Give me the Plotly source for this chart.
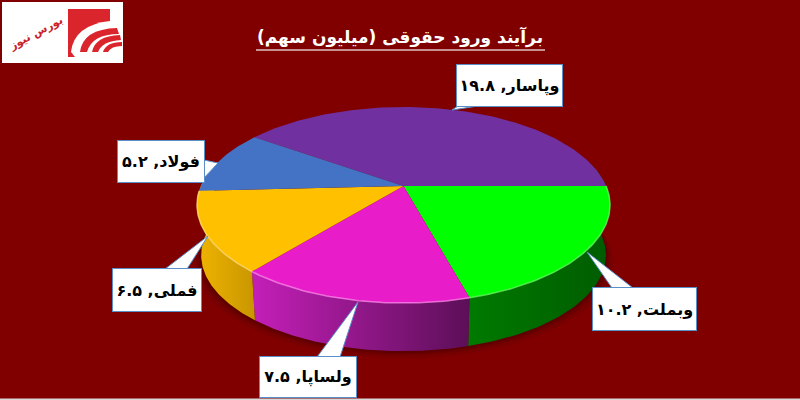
import numpy as np
import plotly.graph_objects as go

categories = ["ویپاسار", "وبملت", "ولساپا", "فملی", "فولاد"]
label_names = ["وپاسار", "وبملت", "ولساپا", "فملی", "فولاد"]
value_labels = ["۱۹.۸", "۱۰.۲", "۷.۵", "۶.۵", "۵.۲"]
values = [19.8, 10.2, 7.5, 6.5, 5.2]
top_colors = ["#7030a0", "#00ff00", "#e81cc8", "#ffc000", "#4472c4"]
wall_scales = [None,
               ["#007a00", "#005c00"],
               ["#c41fb8", "#5c0f58"],
               ["#f0b400", "#c89600"],
               None]
rim_colors = [None, "#66ff66", "#ff8cf0", "#ffe080", None]
title_text = "برآیند ورود حقوقی (میلیون سهم)"
logo_text = "بورس نیوز"

BG = "#800000"
CX, CY, A, B, K = 403.5, 186, 202.6, 94.3, 0.194
CY2, A2, B2 = 236.5, 198.5, 92.4


def top(t):
    d = 1 - K * np.sin(t)
    return CX + A * np.cos(t) / d, CY + B * np.sin(t) / d


def bot(t):
    d = 1 - K * np.sin(t)
    return CX + A2 * np.cos(t) / d, CY2 + B2 * np.sin(t) / d


fig = go.Figure()

# soft shadow under the pie
ring = np.linspace(0, 2 * np.pi, 240)
for grow, alpha in [(7, 0.10), (4, 0.14), (2, 0.18)]:
    sx, sy = bot(ring)
    fig.add_trace(go.Scatter(
        x=CX + (sx - CX) * (1 + grow / 200), y=sy + grow, mode="lines", fill="toself",
        line=dict(width=0), fillcolor=f"rgba(40,0,0,{alpha})", hoverinfo="skip", showlegend=False))

shares = np.array(values) / sum(values)
# purple slice ends on the right-hand horizontal; slices run clockwise on screen
edges = np.concatenate([[0.0], np.cumsum(shares[1:]), [1.0]]) * 2 * np.pi
starts = [edges[-2] - 2 * np.pi] + list(edges[:-2])
ends = [0.0] + list(edges[1:-1])

# side walls
for i in (1, 2, 3):
    lo = starts[i] - (0.25 if i == 1 else 0)
    hi = ends[i] + (0.25 if i == 3 else 0)
    t = np.linspace(lo, hi, 80)
    xt, yt = top(t)
    xb, yb = bot(t)
    fig.add_trace(go.Scatter(
        x=np.concatenate([xt, xb[::-1]]), y=np.concatenate([yt, yb[::-1]]),
        mode="lines", fill="toself", line=dict(width=0),
        fillgradient=dict(type="horizontal",
                          colorscale=[[0, wall_scales[i][0]], [1, wall_scales[i][1]]]),
        hoverinfo="skip", showlegend=False))

# top faces
for i, (name, val) in enumerate(zip(categories, values)):
    t = np.linspace(starts[i], ends[i], 120)
    x, y = top(t)
    fig.add_trace(go.Scatter(
        x=np.concatenate([[CX], x, [CX]]), y=np.concatenate([[CY], y, [CY]]),
        mode="lines", fill="toself", line=dict(width=0), fillcolor=top_colors[i],
        name=name, text=[f"{name}: {val}"] * (len(t) + 2), hoverinfo="text", showlegend=False))

# bevel highlight on the front rim
for i in (1, 2, 3):
    t = np.linspace(starts[i], ends[i], 80)
    x, y = top(t)
    fig.add_trace(go.Scatter(x=x, y=y, mode="lines",
                             line=dict(width=1.5, color=rim_colors[i]), opacity=0.75,
                             hoverinfo="skip", showlegend=False))

BLUE = "#5b8fc9"
shapes = [
    # bottom strip of the picture
    dict(type="rect", x0=0, x1=800, y0=398.5, y1=400, fillcolor="#d8d8d8", line_width=0, layer="above"),
    # logo
    dict(type="rect", x0=2, x1=123, y0=2, y1=63, fillcolor="white", line_width=0, layer="above"),
    dict(type="rect", x0=68, x1=110, y0=9, y1=57, fillcolor="#d9252b", line_width=0, layer="above"),
    dict(type="path", path="M 71,52 Q 74,25 110,21 L 110,57 L 75,57 Z", fillcolor="white", line_width=0, layer="above"),
    dict(type="path", path="M 80,52 Q 83,29 117,28 L 119,34 Q 92,34 87,52 Z", fillcolor="#d9252b", line_width=0, layer="above"),
    dict(type="path", path="M 92,52 Q 95,36 120,35 L 121,40 Q 102,41 98,52 Z", fillcolor="#d9252b", line_width=0, layer="above"),
    dict(type="path", path="M 103,52 Q 106,42 122,42 L 122,46 Q 111,46 108,52 Z", fillcolor="#d9252b", line_width=0, layer="above"),
    # title underline
    dict(type="line", x0=256, x1=545, y0=50, y1=50, line=dict(color="#e0c0c0", width=1.5), layer="above"),
    # callout pointers
    dict(type="path", path="M 458,106 L 452,110 L 478,106 Z", fillcolor="white", line=dict(color=BLUE, width=1), layer="above"),
    dict(type="path", path="M 204,160 L 218,163 L 204,178 Z", fillcolor="white", line=dict(color=BLUE, width=1), layer="above"),
    dict(type="path", path="M 165,269 L 208,236 L 187,269 Z", fillcolor="white", line=dict(color=BLUE, width=1), layer="above"),
    dict(type="path", path="M 317,357 L 358,302 L 340,357 Z", fillcolor="white", line=dict(color=BLUE, width=1), layer="above"),
    dict(type="path", path="M 612,288 L 587,252 L 633,288 Z", fillcolor="white", line=dict(color=BLUE, width=1), layer="above"),
]

boxes = {0: (456, 563, 64, 107), 1: (592, 697, 287, 331), 2: (259, 357, 356, 398),
         3: (112, 202, 268, 312), 4: (117, 205, 140, 183)}
annotations = []
for i, (x0, x1, y0, y1) in boxes.items():
    annotations.append(dict(
        x=(x0 + x1) / 2, y=(y0 + y1) / 2, xref="x", yref="y", showarrow=False,
        text=f"\u202b{label_names[i]}, {value_labels[i]}\u202c",
        width=x1 - x0 - 2, height=y1 - y0 - 2, bgcolor="white", bordercolor=BLUE, borderwidth=1, borderpad=0,
        font=dict(family="DejaVu Sans", size=16, color="black", weight="bold"),
        align="center", valign="middle"))
annotations.append(dict(
    x=35, y=33, xref="x", yref="y", showarrow=False, text=logo_text, textangle=-28,
    font=dict(family="DejaVu Sans", size=11, color="#c8202a", weight="bold")))

fig.update_layout(
    width=800, height=400, autosize=False,
    margin=dict(l=0, r=0, t=0, b=0),
    paper_bgcolor=BG, plot_bgcolor=BG, showlegend=False,
    title=dict(text=title_text, x=0.5, xref="paper", xanchor="center",
               y=1 - 37 / 400, yref="container", yanchor="middle",
               font=dict(family="DejaVu Sans", size=17, color="white", weight="bold")),
    xaxis=dict(range=[0, 800], visible=False, fixedrange=True),
    yaxis=dict(range=[400, 0], visible=False, fixedrange=True),
    shapes=shapes, annotations=annotations,
)
fig.write_html("out.html", config={"displayModeBar": False},
               post_script="document.body.style.margin='0';")
